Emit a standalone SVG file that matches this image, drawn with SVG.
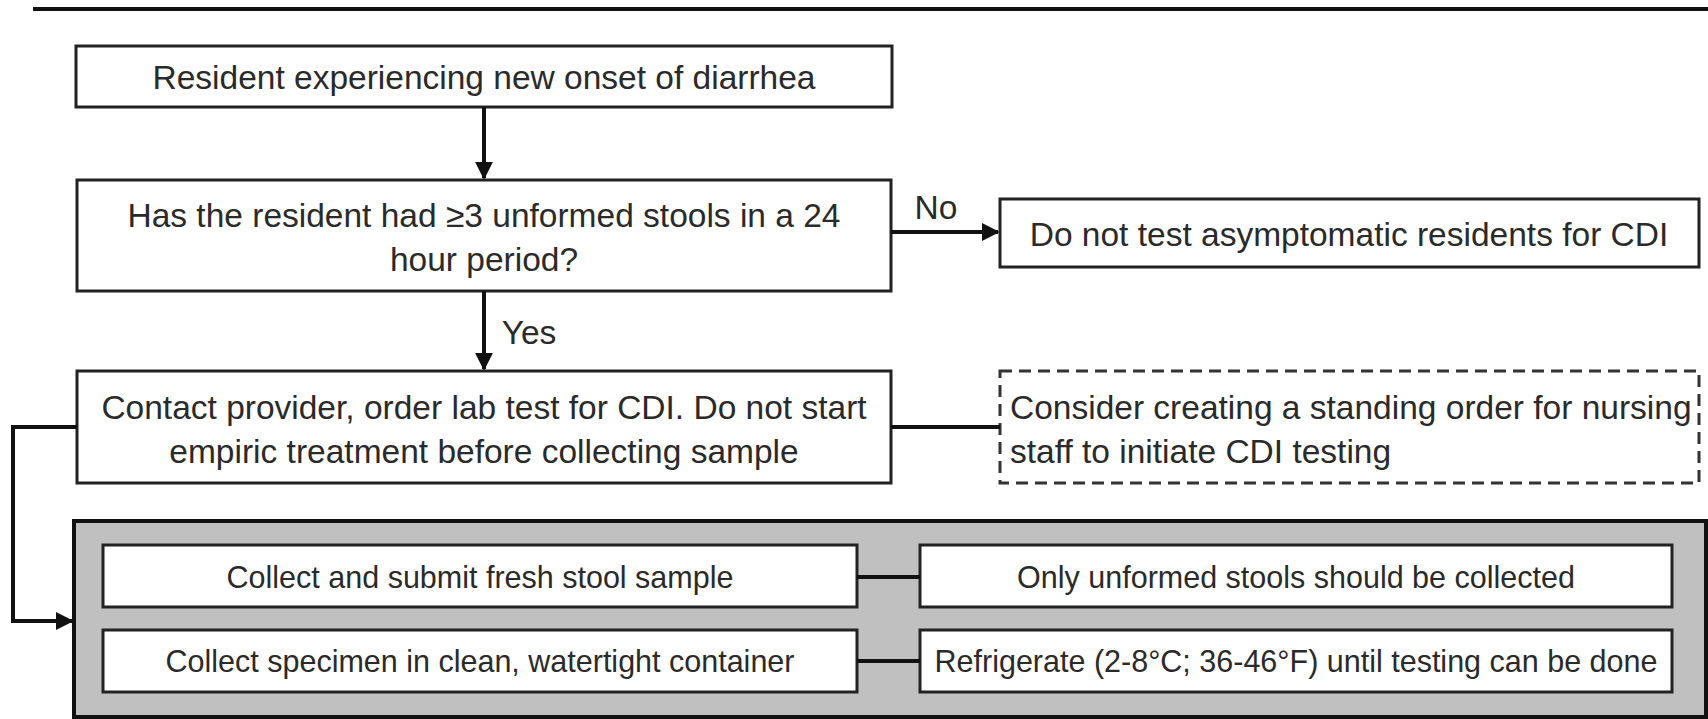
<svg xmlns="http://www.w3.org/2000/svg" width="1708" height="719" viewBox="0 0 1708 719">
<defs>
<style>
.box{fill:#fff;stroke:#222;stroke-width:3}
.dash{fill:#fff;stroke:#333;stroke-width:3;stroke-dasharray:12 7}
.t{font-family:"Liberation Sans",Arial,sans-serif;font-size:33.5px;fill:#2a2a2a;text-anchor:middle;dominant-baseline:central}
.s{font-size:30.5px}
.tl{text-anchor:start}
.c{fill:none;stroke:#111;stroke-width:4}
</style>
<marker id="ah" viewBox="0 0 10 10" refX="9" refY="5" markerWidth="4.5" markerHeight="4.5" orient="auto" markerUnits="strokeWidth">
<path d="M0,0 L10,5 L0,10 z" fill="#111"/>
</marker>
</defs>
<rect width="1708" height="719" fill="#fff"/>
<line x1="33" y1="9" x2="1708" y2="9" stroke="#111" stroke-width="4"/>

<g id="n1"><rect class="box" x="76" y="46" width="816" height="61"/><text class="t" x="484" y="77">Resident experiencing new onset of diarrhea</text></g>
<g id="n2"><rect class="box" x="77" y="180" width="814" height="111"/><text class="t" x="484" y="215">Has the resident had ≥3 unformed stools in a 24</text><text class="t" x="484" y="259">hour period?</text></g>
<g id="n3"><rect class="box" x="1000" y="199" width="699" height="68"/><text class="t" x="1349" y="234">Do not test asymptomatic residents for CDI</text></g>
<g id="n4"><rect class="box" x="77" y="371" width="814" height="112"/><text class="t" x="484" y="407">Contact provider, order lab test for CDI. Do not start</text><text class="t" x="484" y="451">empiric treatment before collecting sample</text></g>
<g id="n5"><rect class="dash" x="1000" y="371" width="699" height="112"/><text class="t tl" x="1010" y="407">Consider creating a standing order for nursing</text><text class="t tl" x="1010" y="451">staff to initiate CDI testing</text></g>
<g id="grp"><rect x="74" y="521" width="1632" height="196" fill="#c0c0c0" stroke="#111" stroke-width="4"/></g>
<g id="n6"><rect class="box" x="103" y="545" width="754" height="62"/><text class="t s" x="480" y="577">Collect and submit fresh stool sample</text></g>
<g id="n7"><rect class="box" x="920" y="545" width="752" height="62"/><text class="t s" x="1296" y="577">Only unformed stools should be collected</text></g>
<g id="n8"><rect class="box" x="103" y="630" width="754" height="62"/><text class="t s" x="480" y="661">Collect specimen in clean, watertight container</text></g>
<g id="n9"><rect class="box" x="920" y="630" width="752" height="62"/><text class="t s" x="1296" y="661">Refrigerate (2-8°C; 36-46°F) until testing can be done</text></g>

<g id="connectors">
<line class="c" x1="484" y1="107" x2="484" y2="178" marker-end="url(#ah)"/>
<line class="c" x1="891" y1="232" x2="998" y2="232" marker-end="url(#ah)"/>
<text class="t" x="936" y="207">No</text>
<line class="c" x1="484" y1="291" x2="484" y2="369" marker-end="url(#ah)"/>
<text class="t" x="529" y="332">Yes</text>
<line class="c" x1="891" y1="427" x2="1000" y2="427"/>
<polyline class="c" points="77,427 13,427 13,621 72,621" marker-end="url(#ah)"/>
<line class="c" x1="857" y1="577" x2="920" y2="577"/>
<line class="c" x1="857" y1="661" x2="920" y2="661"/>
</g>
</svg>
